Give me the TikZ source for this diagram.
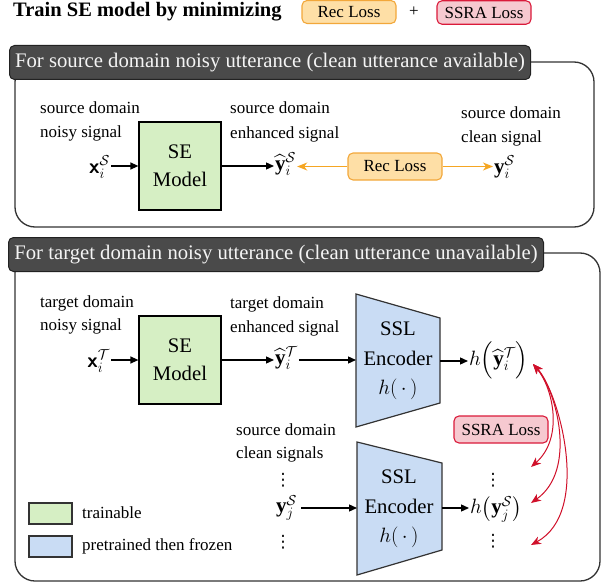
\documentclass[tikz,border=0pt]{standalone}
\usepackage{amsmath}
\usepackage{fontspec}
\setmainfont{Liberation Serif}
\newfontfamily\dejavufam{DejaVu Sans}
\usetikzlibrary{arrows.meta,calc}
\definecolor{segreen}{HTML}{D6EFC4}
\definecolor{encfill}{HTML}{C9DCF4}
\definecolor{encdraw}{HTML}{333333}
\definecolor{framegray}{HTML}{333333}
\definecolor{headfill}{HTML}{4A4A4A}
\definecolor{headborder}{HTML}{222222}
\definecolor{headtext}{HTML}{F4F4F4}
\definecolor{recfill}{HTML}{FEDFA6}
\definecolor{recdraw}{HTML}{F2A73A}
\definecolor{orarrow}{HTML}{F5A623}
\definecolor{ssrafill}{HTML}{F6C9D0}
\definecolor{ssradraw}{HTML}{DA1A3A}
\definecolor{redarrow}{HTML}{D0102A}
\begin{document}
\begin{tikzpicture}[x=1pt,y=-1pt,
  txtbody/.style={font=\rmfamily\fontsize{17}{20}\selectfont},
  txtbig/.style={font=\rmfamily\fontsize{20.7}{28}\selectfont},
  mathtxt/.style={font=\fontsize{21}{25}\selectfont, inner sep=1pt},
  dotstxt/.style={font=\dejavufam\fontsize{17}{20}\selectfont, inner sep=0pt},
  arr/.style={line width=1.3pt, -{Triangle[length=8pt,width=7pt]}},
  orarr/.style={draw=orarrow, line width=1.3pt, -{Stealth[length=10pt,width=8pt,inset=3pt]}},
  redarr/.style={draw=redarrow, line width=1pt, {Stealth[length=10pt,width=8pt,inset=3pt]}-{Stealth[length=10pt,width=8pt,inset=3pt]}},
  sebox/.style={draw=black, line width=1.2pt, fill=segreen, minimum width=82pt, minimum height=88pt, align=center, txtbig, inner sep=0pt},
  outerframe/.style={draw=framegray, line width=1.3pt, rounded corners=20pt},
  headbox/.style={draw=headborder, fill=headfill, text=headtext, rounded corners=5pt, line width=1pt, font=\rmfamily\fontsize{20.7}{24}\selectfont, inner sep=0pt, anchor=north west},
  recbox/.style={draw=recdraw, fill=recfill, rounded corners=5pt, line width=1.1pt, txtbody, inner sep=0pt, minimum width=94pt, minimum height=27pt},
  ssrabox/.style={draw=ssradraw, fill=ssrafill, rounded corners=5pt, line width=1.1pt, txtbody, inner sep=0pt, minimum width=94pt, minimum height=27pt},
  encshape/.style={draw=encdraw, fill=encfill, line width=1.2pt},
  enctext/.style={font=\rmfamily\fontsize{20.7}{29.5}\selectfont, align=center, inner sep=0pt},
  legbox/.style={draw=encdraw, line width=1.2pt, minimum width=43pt, minimum height=21pt, inner sep=0pt},
]
\useasboundingbox (0,0) rectangle (605,586);

% ---------- title line ----------
\node[anchor=base west, font=\rmfamily\fontsize{20.5}{24}\selectfont\bfseries, inner sep=0pt] (title) at (13,17) {Train SE model by minimizing};
\node[recbox, minimum height=23pt] (rec0) at (349,12) {Rec Loss};
\node[txtbody] (plus) at (414,12) {+};
\node[ssrabox, minimum height=23.5pt] (ssra0) at (484,12.5) {SSRA Loss};

% ---------- frames ----------
\draw[outerframe] (15,62) rectangle (594,227);
\draw[outerframe] (15,253) rectangle (600,581);
\node[headbox, minimum width=521pt, minimum height=34pt] (head1) at (9,45) {For source domain noisy utterance (clean utterance available)};
\node[headbox, minimum width=535pt, minimum height=34pt] (head2) at (8,237) {For target domain noisy utterance (clean utterance unavailable)};

% ---------- source part ----------
\node[txtbody, anchor=base west, inner sep=0pt] (l1a) at (40,113) {source domain};
\node[txtbody, anchor=base west, inner sep=0pt] (l1b) at (40,137) {noisy signal};
\node[sebox] (se1) at (180,166) {SE\\Model};
\node[mathtxt, anchor=east] (xS) at (111,167) {$\text{\sffamily\bfseries x}_i^{\mathcal{S}}$};
\draw[arr] (xS.east |- se1.west) -- (se1.west);

\node[txtbody, anchor=base west, inner sep=0pt] (l2a) at (230,113) {source domain};
\node[txtbody, anchor=base west, inner sep=0pt] (l2b) at (230,138) {enhanced signal};
\node[mathtxt, anchor=west] (yhS) at (274,164) {${\widehat{\mathbf{y}}}_i^{\mathcal{S}}$};
\draw[arr] (se1.east) -- (se1.east -| yhS.west);

\node[recbox] (rec1) at (395,166.5) {Rec Loss};
\node[txtbody, anchor=base west, inner sep=0pt] (l3a) at (461,118) {source domain};
\node[txtbody, anchor=base west, inner sep=0pt] (l3b) at (461,142) {clean signal};
\node[mathtxt, anchor=west] (yS) at (493,167) {$\mathbf{y}_i^{\mathcal{S}}$};
\draw[orarr] (rec1.west) -- (rec1.west -| yhS.east);
\draw[orarr] (rec1.east) -- (rec1.east -| yS.west);

% ---------- target part ----------
\node[txtbody, anchor=base west, inner sep=0pt] (t1a) at (40,307) {target domain};
\node[txtbody, anchor=base west, inner sep=0pt] (t1b) at (40,330) {noisy signal};
\node[sebox] (se2) at (180,360) {SE\\Model};
\node[mathtxt, anchor=east] (xT) at (111,361) {$\text{\sffamily\bfseries x}_i^{\mathcal{T}}$};
\draw[arr] (xT.east |- se2.west) -- (se2.west);

\node[txtbody, anchor=base west, inner sep=0pt] (t2a) at (230,308) {target domain};
\node[txtbody, anchor=base west, inner sep=0pt] (t2b) at (230,332) {enhanced signal};
\node[mathtxt, anchor=west] (yhT) at (274,358) {${\widehat{\mathbf{y}}}_i^{\mathcal{T}}$};
\draw[arr] (se2.east) -- (se2.east -| yhT.west);

% encoder 1
\draw[encshape] (356,294) -- (440,318) -- (440,403) -- (356,427) -- cycle;
\coordinate (enc1in) at (356,360);
\coordinate (enc1out) at (440,361);
\node[enctext] (enc1) at (398,361) {SSL\\Encoder\\$h(\,\cdot\,)$};
\draw[arr] (se2.east -| yhT.east) -- (enc1in);
\node[mathtxt, anchor=west] (hT) at (468,360) {$h\Bigl({\widehat{\mathbf{y}}}_i^{\mathcal{T}}\Bigr)$};
\draw[arr] (enc1out) -- (enc1out -| hT.west);

% source clean signals
\node[txtbody, anchor=base west, inner sep=0pt] (s1a) at (236,435) {source domain};
\node[txtbody, anchor=base west, inner sep=0pt] (s1b) at (236,458) {clean signals};
\node[dotstxt] (vd1) at (283,480) {⋮};
\node[mathtxt, anchor=east] (yjS) at (298,508) {$\mathbf{y}_j^{\mathcal{S}}$};
\node[dotstxt] (vd2) at (283,542) {⋮};

% encoder 2
\draw[encshape] (357,442) -- (442,463) -- (442,550) -- (357,575) -- cycle;
\coordinate (enc2in) at (357,508);
\coordinate (enc2out) at (442,508);
\node[enctext] (enc2) at (399,509) {SSL\\Encoder\\$h(\,\cdot\,)$};
\draw[arr] (enc2in -| yjS.east) ++(3,0) -- (enc2in);
\node[mathtxt, anchor=west] (hS) at (469,509) {$h\bigl(\mathbf{y}_j^{\mathcal{S}}\bigr)$};
\draw[arr] (enc2out) -- (enc2out -| hS.west);
\node[dotstxt] (vd3) at (493,480) {⋮};
\node[dotstxt] (vd4) at (493,541) {⋮};

% SSRA loss and red arrows
\node[ssrabox] (ssra1) at (501,429.5) {SSRA Loss};
\coordinate (rT) at (533,364);
\coordinate (r1) at (531,467);
\coordinate (r2) at (531,503);
\coordinate (r3) at (531,545);
\draw[redarr] (rT) .. controls (553,388) and (564,438) .. (r1);
\draw[redarr] (rT) .. controls (556,390) and (578,470) .. (r2);
\draw[redarr] (rT) .. controls (559,392) and (592,512) .. (r3);

% legend
\node[legbox, fill=segreen] (lg1) at (50.5,513.5) {};
\node[txtbody, anchor=base west, inner sep=0pt] (lt1) at (82,518) {trainable};
\node[legbox, fill=encfill] (lg2) at (50.5,546.5) {};
\node[txtbody, anchor=base west, inner sep=0pt] (lt2) at (82,550) {pretrained then frozen};
\end{tikzpicture}
\end{document}
